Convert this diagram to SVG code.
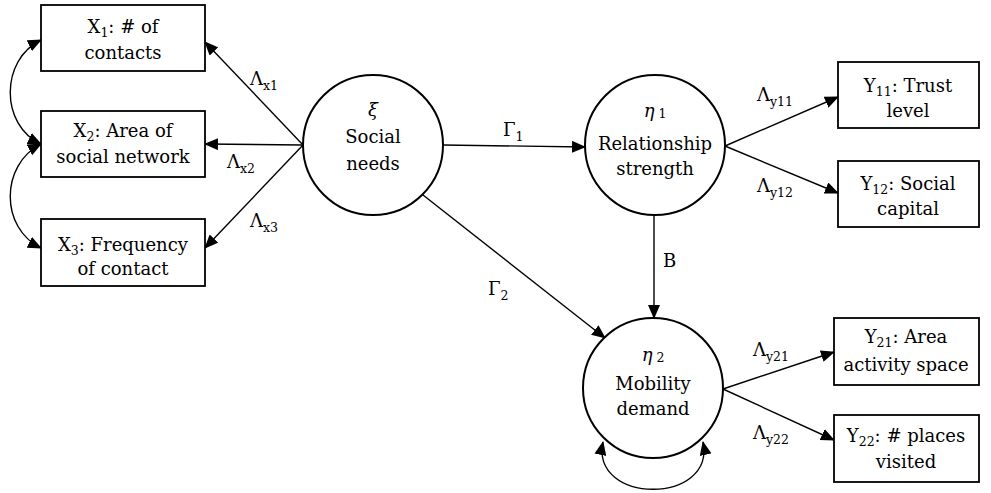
<svg xmlns="http://www.w3.org/2000/svg" width="991" height="493" viewBox="0 0 991 493" font-family="'DejaVu Serif', 'Liberation Serif', serif">
  <style>
    .box { fill: #ffffff; stroke: #000000; stroke-width: 1.8; }
    .lat { fill: #ffffff; stroke: #000000; stroke-width: 2; }
    .t { font-size: 18px; fill: #000000; text-anchor: middle; }
    .lbl { font-size: 18px; fill: #000000; }
    .sub { font-size: 12.5px; }
    .edge { fill: none; stroke: #000000; stroke-width: 1.4; }
  </style>
  <defs>
    <marker id="arr" markerUnits="userSpaceOnUse" markerWidth="14" markerHeight="12" viewBox="0 0 14 12" refX="13" refY="6" orient="auto">
      <path d="M0,0 L14,6 L0,12 Z" fill="#000000"/>
    </marker>
    <marker id="arrs" markerUnits="userSpaceOnUse" markerWidth="14" markerHeight="12" viewBox="0 0 14 12" refX="13" refY="6" orient="auto-start-reverse">
      <path d="M0,0 L14,6 L0,12 Z" fill="#000000"/>
    </marker>
  </defs>
  <rect width="991" height="493" fill="#ffffff"/>

  <!-- connectors -->
  <g id="connectors">
    <line class="edge" x1="303" y1="145" x2="205" y2="42" marker-end="url(#arr)"/>
    <line class="edge" x1="303" y1="145" x2="205" y2="144" marker-end="url(#arr)"/>
    <line class="edge" x1="303" y1="145" x2="205" y2="248" marker-end="url(#arr)"/>
    <path class="edge" d="M41,40 C 0,60 0,125 41,144" marker-start="url(#arrs)" marker-end="url(#arrs)"/>
    <path class="edge" d="M41,144 C 0,165 0,228 41,248" marker-start="url(#arrs)" marker-end="url(#arrs)"/>
    <line class="edge" x1="443" y1="145" x2="585" y2="147" marker-end="url(#arr)"/>
    <line class="edge" x1="423" y1="195" x2="605" y2="338" marker-end="url(#arr)"/>
    <line class="edge" x1="654" y1="215" x2="654" y2="318" marker-end="url(#arr)"/>
    <line class="edge" x1="725" y1="146" x2="838" y2="97" marker-end="url(#arr)"/>
    <line class="edge" x1="725" y1="146" x2="838" y2="193" marker-end="url(#arr)"/>
    <line class="edge" x1="723" y1="389" x2="834" y2="352" marker-end="url(#arr)"/>
    <line class="edge" x1="723" y1="389" x2="834" y2="440" marker-end="url(#arr)"/>
    <path class="edge" d="M603,442 C 590,505 716,505 703,442" marker-start="url(#arrs)" marker-end="url(#arrs)"/>

    <!-- path coefficients -->
    <text class="lbl" x="250" y="85">Λ<tspan class="sub" dy="5">x1</tspan></text>
    <text class="lbl" x="227" y="168">Λ<tspan class="sub" dy="5">x2</tspan></text>
    <text class="lbl" x="250" y="227">Λ<tspan class="sub" dy="5">x3</tspan></text>
    <text class="lbl" x="503" y="136">Γ<tspan class="sub" dy="5">1</tspan></text>
    <text class="lbl" x="488" y="295">Γ<tspan class="sub" dy="5">2</tspan></text>
    <text class="lbl" x="663" y="267">B</text>
    <text class="lbl" x="757" y="101">Λ<tspan class="sub" dy="5">y11</tspan></text>
    <text class="lbl" x="757" y="192">Λ<tspan class="sub" dy="5">y12</tspan></text>
    <text class="lbl" x="753" y="356">Λ<tspan class="sub" dy="5">y21</tspan></text>
    <text class="lbl" x="753" y="439">Λ<tspan class="sub" dy="5">y22</tspan></text>
  </g>

  <!-- observed indicators of social needs -->
  <g id="x1">
    <rect class="box" x="41" y="5" width="164" height="66"/>
    <text class="t" x="123" y="33">X<tspan class="sub" dy="4">1</tspan><tspan dy="-4">: # of</tspan></text>
    <text class="t" x="123" y="59">contacts</text>
  </g>
  <g id="x2">
    <rect class="box" x="41" y="111" width="164" height="66"/>
    <text class="t" x="123" y="137">X<tspan class="sub" dy="4">2</tspan><tspan dy="-4">: Area of</tspan></text>
    <text class="t" x="123" y="163">social network</text>
  </g>
  <g id="x3">
    <rect class="box" x="41" y="219" width="164" height="67"/>
    <text class="t" x="123" y="251">X<tspan class="sub" dy="4">3</tspan><tspan dy="-4">: Frequency</tspan></text>
    <text class="t" x="123" y="275">of contact</text>
  </g>

  <!-- latent variables -->
  <g id="xi">
    <circle class="lat" cx="373" cy="145" r="70"/>
    <text class="t" x="373" y="116" font-style="italic">ξ</text>
    <text class="t" x="373" y="143">Social</text>
    <text class="t" x="373" y="170">needs</text>
  </g>
  <g id="eta1">
    <circle class="lat" cx="655" cy="145" r="70"/>
    <text class="t" x="655" y="117"><tspan font-style="italic">η</tspan><tspan class="sub" dy="1"> 1</tspan></text>
    <text class="t" x="655" y="150">Relationship</text>
    <text class="t" x="655" y="175">strength</text>
  </g>
  <g id="eta2">
    <circle class="lat" cx="653" cy="388" r="70"/>
    <text class="t" x="653" y="361"><tspan font-style="italic">η</tspan><tspan class="sub" dy="1"> 2</tspan></text>
    <text class="t" x="653" y="390">Mobility</text>
    <text class="t" x="653" y="415">demand</text>
  </g>

  <!-- observed indicators of relationship strength and mobility demand -->
  <g id="y11">
    <rect class="box" x="838" y="62" width="141" height="66"/>
    <text class="t" x="908" y="92">Y<tspan class="sub" dy="4">11</tspan><tspan dy="-4">: Trust</tspan></text>
    <text class="t" x="908" y="117">level</text>
  </g>
  <g id="y12">
    <rect class="box" x="838" y="161" width="141" height="66"/>
    <text class="t" x="908" y="190">Y<tspan class="sub" dy="4">12</tspan><tspan dy="-4">: Social</tspan></text>
    <text class="t" x="908" y="215">capital</text>
  </g>
  <g id="y21">
    <rect class="box" x="834" y="318" width="145" height="67"/>
    <text class="t" x="906" y="343">Y<tspan class="sub" dy="4">21</tspan><tspan dy="-4">: Area</tspan></text>
    <text class="t" x="906" y="371">activity space</text>
  </g>
  <g id="y22">
    <rect class="box" x="834" y="415" width="145" height="67"/>
    <text class="t" x="906" y="442">Y<tspan class="sub" dy="4">22</tspan><tspan dy="-4">: # places</tspan></text>
    <text class="t" x="906" y="468">visited</text>
  </g>
</svg>
